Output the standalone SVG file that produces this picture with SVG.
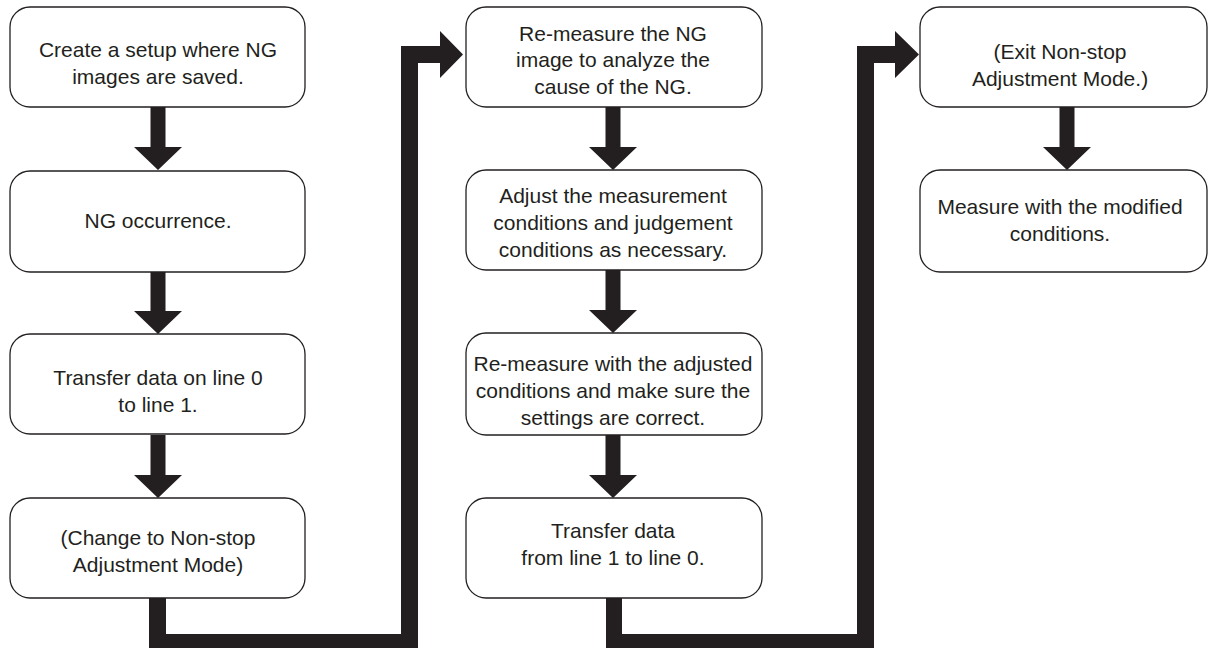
<svg xmlns="http://www.w3.org/2000/svg" width="1208" height="648" viewBox="0 0 1208 648">
  <style>
    .box { fill: #ffffff; stroke: #231f20; stroke-width: 1.3; }
    .lbl { font-family: "Liberation Sans", Arial, sans-serif; font-size: 21px; fill: #231f20; text-anchor: middle; }
    .conn { fill: #231f20; stroke: none; }
  </style>
  <defs>
    <!-- block arrow pointing down, tip at (0,0), shaft 40 long -->
    <path id="down" d="M -7.5 -63 H 7.5 V -23 H 24 L 0 0 L -24 -23 H -7.5 Z"/>
  </defs>
  <rect width="1208" height="648" fill="#ffffff"/>

  <!-- connectors -->
  <g id="connectors" class="conn">
    <use href="#down" x="158" y="170"/>
    <use href="#down" x="158" y="334"/>
    <use href="#down" x="158" y="498"/>
    <use href="#down" x="613" y="170"/>
    <use href="#down" x="613" y="333"/>
    <use href="#down" x="613" y="498"/>
    <use href="#down" x="1067" y="170"/>
    <!-- column 1 to column 2 elbow -->
    <path d="M 149 598 V 648 H 418 V 63 H 440 V 78 L 463 54.5 L 440 31 V 46 H 401 V 634 H 166 V 598 Z"/>
    <!-- column 2 to column 3 elbow -->
    <path d="M 606 598 V 648 H 874 V 63 H 895 V 78 L 919 54.5 L 895 31 V 46 H 857 V 634 H 622 V 598 Z"/>
  </g>

  <!-- column 1 -->
  <g id="n1">
    <rect class="box" x="10" y="7" width="295" height="100" rx="20"/>
    <text class="lbl" x="158" y="57">Create a setup where NG</text>
    <text class="lbl" x="158" y="84">images are saved.</text>
  </g>
  <g id="n2">
    <rect class="box" x="10" y="171" width="295" height="101" rx="20"/>
    <text class="lbl" x="158" y="228">NG occurrence.</text>
  </g>
  <g id="n3">
    <rect class="box" x="10" y="334" width="295" height="100" rx="20"/>
    <text class="lbl" x="158" y="385">Transfer data on line 0</text>
    <text class="lbl" x="158" y="412">to line 1.</text>
  </g>
  <g id="n4">
    <rect class="box" x="10" y="498" width="295" height="100" rx="20"/>
    <text class="lbl" x="158" y="545">(Change to Non-stop</text>
    <text class="lbl" x="158" y="572">Adjustment Mode)</text>
  </g>

  <!-- column 2 -->
  <g id="n5">
    <rect class="box" x="466" y="7" width="296" height="100" rx="20"/>
    <text class="lbl" x="613" y="41">Re-measure the NG</text>
    <text class="lbl" x="613" y="67">image to analyze the</text>
    <text class="lbl" x="613" y="94">cause of the NG.</text>
  </g>
  <g id="n6">
    <rect class="box" x="466" y="170" width="296" height="100" rx="20"/>
    <text class="lbl" x="613" y="203">Adjust the measurement</text>
    <text class="lbl" x="613" y="230">conditions and judgement</text>
    <text class="lbl" x="613" y="257">conditions as necessary.</text>
  </g>
  <g id="n7">
    <rect class="box" x="466" y="333" width="296" height="102" rx="20"/>
    <text class="lbl" x="613" y="371">Re-measure with the adjusted</text>
    <text class="lbl" x="613" y="398">conditions and make sure the</text>
    <text class="lbl" x="613" y="425">settings are correct.</text>
  </g>
  <g id="n8">
    <rect class="box" x="466" y="498" width="296" height="100" rx="20"/>
    <text class="lbl" x="613" y="538">Transfer data</text>
    <text class="lbl" x="613" y="565">from line 1 to line 0.</text>
  </g>

  <!-- column 3 -->
  <g id="n9">
    <rect class="box" x="920" y="7" width="287" height="100" rx="20"/>
    <text class="lbl" x="1060" y="59">(Exit Non-stop</text>
    <text class="lbl" x="1060" y="86">Adjustment Mode.)</text>
  </g>
  <g id="n10">
    <rect class="box" x="920" y="170" width="287" height="102" rx="20"/>
    <text class="lbl" x="1060" y="214">Measure with the modified</text>
    <text class="lbl" x="1060" y="241">conditions.</text>
  </g>
</svg>
